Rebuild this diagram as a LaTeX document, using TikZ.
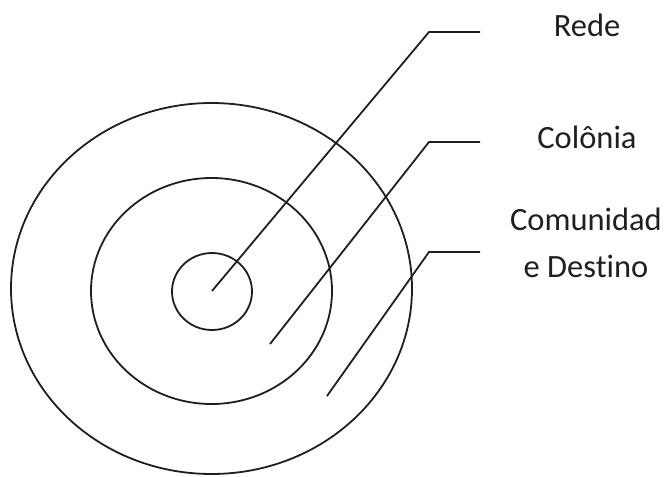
\documentclass[tikz,border=0pt]{standalone}
\usepackage{fontspec}
\setmainfont[Ligatures={NoCommon,TeX}]{Carlito}
\begin{document}
\begin{tikzpicture}[x=1pt,y=-1pt,
  ring/.style={line width=1.8pt, draw=black!88},
  leader/.style={line width=1.8pt, draw=black!88},
  lbl/.style={font=\fontsize{32.5}{47}\selectfont, align=center, inner sep=0pt, text=black!88}]
\useasboundingbox (0,0) rectangle (668,476);
\draw[ring] (212,291.5) ellipse [x radius=40, y radius=38.5];
\draw[ring] (211.5,291) ellipse [x radius=120.5, y radius=113];
\draw[ring] (211.5,288.5) ellipse [x radius=200.5, y radius=185.5];
\coordinate (p1) at (212,291);
\coordinate (b1) at (429,32);
\coordinate (e1) at (480,32);
\coordinate (p2) at (270,344);
\coordinate (b2) at (429,142);
\coordinate (e2) at (480,142);
\coordinate (p3) at (327,396);
\coordinate (b3) at (429,252);
\coordinate (e3) at (480,252);
\draw[leader] (p1) -- (b1) -- (e1);
\draw[leader] (p2) -- (b2) -- (e2);
\draw[leader] (p3) -- (b3) -- (e3);
\node[lbl, anchor=base] (rede) at (587,37) {Rede};
\node[lbl, anchor=base] (colonia) at (587,148) {Colônia};
\node[lbl, anchor=base] (comun1) at (586,230) {Comunidad};
\node[lbl, anchor=base] (comun2) at (586,277) {e Destino};
\end{tikzpicture}
\end{document}
